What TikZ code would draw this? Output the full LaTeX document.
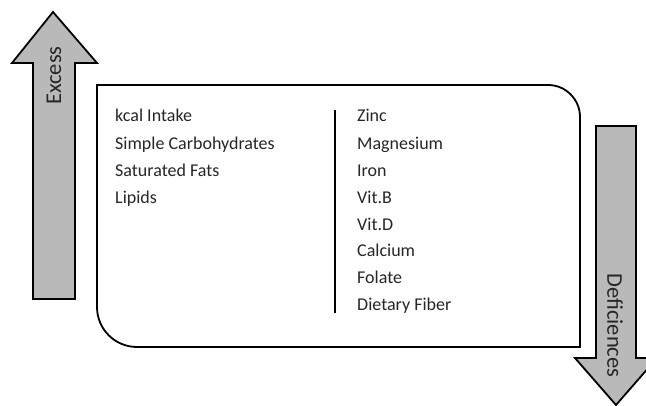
\documentclass[tikz,border=0pt]{standalone}
\usepackage{fontspec}
\setmainfont{Carlito}
\begin{document}
\begin{tikzpicture}[x=1pt,y=-1pt,
  arr/.style={draw=black,line width=1.8pt,fill=gray!55,line join=miter},
  frame/.style={draw=black,line width=1.8pt},
  item/.style={anchor=base west,inner sep=0pt,font=\fontsize{18}{20}\selectfont,text=black!85},
  arrlabel/.style={inner sep=0pt,font=\fontsize{22.5}{25}\selectfont,text=black!85}]
\useasboundingbox (0,0) rectangle (646,406);
% left arrow (Excess)
\draw[arr] (53,12) -- (97,63) -- (75,63) -- (75,299) -- (33,299) -- (33,63) -- (12,63) -- cycle;
\node[arrlabel,rotate=90] (excess) at (54,75.5) {Excess};
% right arrow (Deficiences)
\draw[arr] (596,126) -- (636,126) -- (636,358) -- (657,358) -- (616,405) -- (575,358) -- (596,358) -- cycle;
\node[arrlabel,rotate=-90] (defic) at (615,325.5) {Deficiences};
% main frame
\draw[frame] (97,85) -- (548,85) .. controls (565.7,85) and (580,99.3) .. (580,117)
  -- (580,347) -- (137,347) .. controls (114.9,347) and (97,329.1) .. (97,307) -- cycle;
% divider
\draw[line width=1.8pt] (335,110) -- (335,313);
% left column
\node[item] (l1) at (115,122) {kcal Intake};
\node[item] (l2) at (115,149.5) {Simple Carbohydrates};
\node[item] (l3) at (115,176.5) {Saturated Fats};
\node[item] (l4) at (115,203.5) {Lipids};
% right column
\node[item] (r1) at (357,122) {Zinc};
\node[item] (r2) at (357,149.5) {Magnesium};
\node[item] (r3) at (357,176.5) {Iron};
\node[item] (r4) at (357,203.5) {Vit.B};
\node[item] (r5) at (357,230.5) {Vit.D};
\node[item] (r6) at (357,257) {Calcium};
\node[item] (r7) at (357,284) {Folate};
\node[item] (r8) at (357,311) {Dietary Fiber};
\end{tikzpicture}
\end{document}
